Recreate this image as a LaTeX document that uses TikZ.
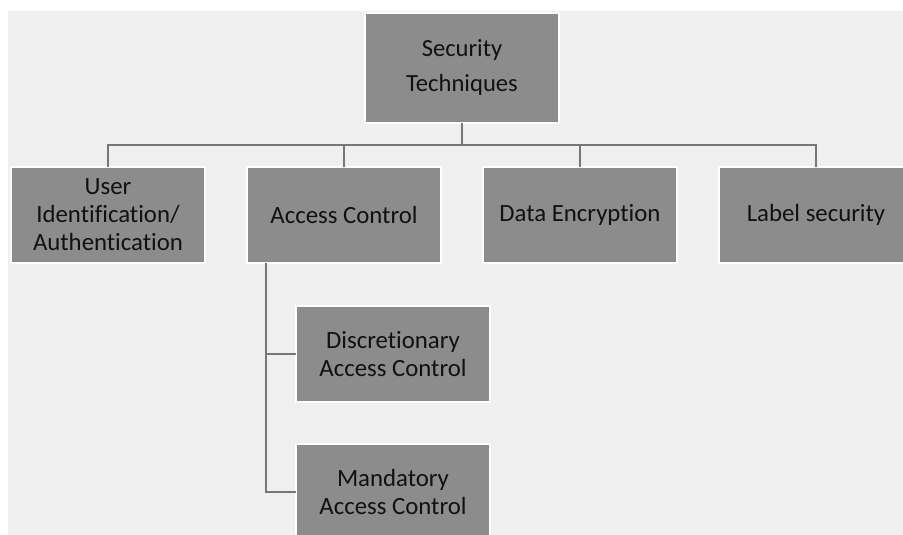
\documentclass[tikz,border=0pt]{standalone}
\usepackage{fontspec}
\setmainfont[Ligatures=NoCommon]{Carlito}
\definecolor{pagebg}{HTML}{EEEFEE}
\definecolor{boxfill}{HTML}{8C8C8C}
\definecolor{linegray}{HTML}{767676}
\definecolor{ink}{HTML}{111111}
\tikzset{
  box/.style={draw=white, line width=1.5pt, fill=boxfill, text=ink,
    anchor=north west, minimum width=194pt, minimum height=96pt,
    align=center, inner sep=0pt, outer sep=0pt,
    font=\fontsize{24.8}{28}\selectfont},
  topbox/.style={box, minimum height=110pt,
    font=\fontsize{24.6}{35}\selectfont},
  conn/.style={draw=linegray, line width=2pt}
}
\begin{document}
\begin{tikzpicture}[x=1pt, y=-1pt]
  \useasboundingbox (0,0) rectangle (903,535);
  % page background
  \fill[white] (0,0) rectangle (903,535);
  \fill[pagebg] (8,11) rectangle (903,535);

  % root
  \node[topbox] (root) at (365,13) {Security\\Techniques};

  % first level
  \node[box] (user)  at (11,167)  {User\\Identification/\\Authentication};
  \node[box] (acc)   at (247,167) {Access Control};
  \node[box] (enc)   at (483,167) {Data Encryption};
  \node[box] (label) at (719,167) {Label security};

  % access control children
  \node[box] (dac) at (296,306) {Discretionary\\Access Control};
  \node[box] (mac) at (296,444) {Mandatory\\Access Control};

  % bus between root and first level
  \coordinate (bus) at ([yshift=-22pt]root.south);
  \draw[conn] (root.south) -- (bus);
  \draw[conn] (user.north) |- (bus) -| (label.north);
  \draw[conn] (acc.north) -- (acc.north |- bus);
  \draw[conn] (enc.north) -- (enc.north |- bus);

  % trunk below Access Control
  \coordinate (trunk) at ([xshift=19pt]acc.south west);
  \draw[conn] (trunk) |- (dac.west);
  \draw[conn] (trunk) |- (mac.west);
\end{tikzpicture}
\end{document}
